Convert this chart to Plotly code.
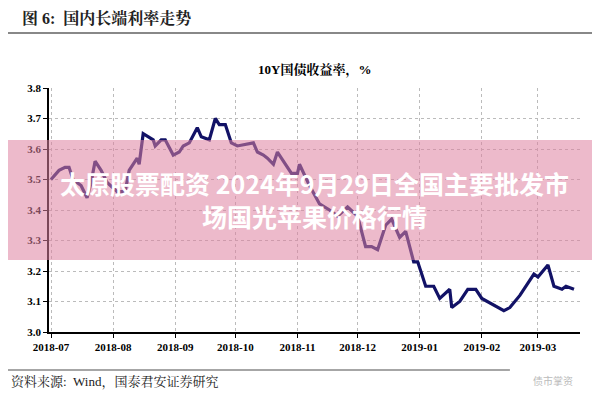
import plotly.graph_objects as go

dates = [
    "2018-07-01", "2018-07-05", "2018-07-08", "2018-07-10", "2018-07-12", "2018-07-16",
    "2018-07-19", "2018-07-21", "2018-07-23", "2018-07-26", "2018-07-29", "2018-08-01",
    "2018-08-03", "2018-08-07", "2018-08-09", "2018-08-13", "2018-08-14", "2018-08-16",
    "2018-08-21", "2018-08-22", "2018-08-25", "2018-08-27", "2018-08-31", "2018-09-03",
    "2018-09-05", "2018-09-08", "2018-09-12", "2018-09-14", "2018-09-18", "2018-09-21",
    "2018-09-23", "2018-09-26", "2018-09-29", "2018-10-02", "2018-10-10", "2018-10-12",
    "2018-10-15", "2018-10-17", "2018-10-20", "2018-10-22", "2018-10-27", "2018-10-29",
    "2018-11-01", "2018-11-02", "2018-11-07", "2018-11-12", "2018-11-17", "2018-11-21",
    "2018-11-26", "2018-12-01", "2018-12-05", "2018-12-08", "2018-12-11", "2018-12-15",
    "2018-12-18", "2018-12-22", "2018-12-25", "2018-12-29", "2018-12-31", "2019-01-04",
    "2019-01-08", "2019-01-11", "2019-01-16", "2019-01-17", "2019-01-21", "2019-01-25",
    "2019-01-29", "2019-02-01", "2019-02-12", "2019-02-15", "2019-02-20", "2019-02-24",
    "2019-02-27", "2019-03-01", "2019-03-06", "2019-03-09", "2019-03-13", "2019-03-15",
    "2019-03-19",
]
yields = [
    3.50, 3.53, 3.54, 3.54, 3.50, 3.48, 3.44, 3.49, 3.56, 3.53, 3.49, 3.47,
    3.46, 3.46, 3.53, 3.57, 3.55, 3.65, 3.63, 3.61, 3.63, 3.63, 3.58, 3.59,
    3.61, 3.62, 3.67, 3.64, 3.63, 3.70, 3.68, 3.68, 3.62, 3.61, 3.62, 3.59,
    3.58, 3.57, 3.55, 3.59, 3.54, 3.52, 3.52, 3.55, 3.48, 3.42, 3.40, 3.38,
    3.41, 3.38, 3.28, 3.28, 3.27, 3.35, 3.37, 3.31, 3.33, 3.23, 3.23, 3.15,
    3.15, 3.11, 3.14, 3.08, 3.10, 3.14, 3.14, 3.11, 3.07, 3.08, 3.12, 3.16,
    3.19, 3.18, 3.22, 3.15, 3.14, 3.15, 3.14,
]
month_ticks = ["2018-07-01", "2018-08-01", "2018-09-01", "2018-10-01", "2018-11-01",
               "2018-12-01", "2019-01-01", "2019-02-01", "2019-03-01"]
month_labels = ["2018-07", "2018-08", "2018-09", "2018-10", "2018-11",
                "2018-12", "2019-01", "2019-02", "2019-03"]

SERIF = "Liberation Serif, Noto Serif CJK SC, Noto Sans CJK SC"

fig = go.Figure()
fig.add_trace(go.Scatter(x=dates, y=yields, mode="lines",
                         line=dict(color="#121266", width=3.2)))

fig.update_layout(
    width=600, height=400,
    margin=dict(l=41, r=28, t=80, b=76),
    paper_bgcolor="white", plot_bgcolor="white",
    showlegend=False,
    xaxis=dict(range=["2018-06-30", "2019-03-22"], tickvals=month_ticks, ticktext=month_labels,
               showgrid=True, gridcolor="#bbbbbb", griddash="dot", gridwidth=1,
               showline=True, linecolor="black", linewidth=1.5,
               ticks="outside", ticklen=4, tickcolor="black",
               tickfont=dict(family=SERIF, size=11, color="black", weight="bold")),
    yaxis=dict(range=[3.0, 3.8], dtick=0.1, tickformat=".1f",
               showgrid=True, gridcolor="#bbbbbb", griddash="dot", gridwidth=1,
               showline=True, linecolor="black", linewidth=1.5,
               ticks="outside", ticklen=4, tickcolor="black", zeroline=False,
               tickfont=dict(family=SERIF, size=11, color="black", weight="bold")),
)

fig.add_annotation(text="10Y国债收益率，%", x=0.5, y=1.074, xref="paper", yref="paper",
                   yanchor="middle", showarrow=False,
                   font=dict(family=SERIF, size=13, color="black", weight="bold"))
fig.add_annotation(text="<b>图 6:  国内长端利率走势</b>", x=-0.055, xref="paper", xanchor="left",
                   y=1.287, yref="paper", yanchor="middle", showarrow=False,
                   font=dict(family=SERIF, size=16, color="#222"))

fig.add_shape(type="line", xref="paper", yref="paper", x0=-0.092, x1=1.04, y0=1.225, y1=1.225,
              line=dict(color="#888", width=2))
fig.add_shape(type="line", xref="paper", yref="paper", x0=-0.092, x1=0.868, y0=-0.156, y1=-0.156,
              line=dict(color="#888", width=1.5))
fig.add_annotation(text="资料来源:  Wind，国泰君安证券研究", x=-0.075, xanchor="left",
                   xref="paper", y=-0.205, yref="paper", yanchor="middle", showarrow=False,
                   font=dict(family=SERIF, size=13, color="#222"))
fig.add_annotation(text="债市掌资", x=0.99, xanchor="right", xref="paper", y=-0.2,
                   yref="paper", yanchor="middle", showarrow=False,
                   font=dict(family="Noto Sans CJK SC", size=10, color="#bbbbbb"))

# pink overlay banner
fig.add_shape(type="rect", xref="paper", yref="paper", x0=-0.1, x1=1.06, y0=0.295, y1=0.787,
              fillcolor="rgba(222,130,160,0.55)", line=dict(width=0), layer="above")
fig.add_annotation(text="太原股票配资 2024年9月29日全国主要批发市<br>场国光苹果价格行情",
                   x=0.5, y=0.541, xref="paper", yref="paper", showarrow=False,
                   font=dict(family="Noto Sans CJK SC", size=25, color="white", weight="bold"),
                   align="center")

fig.write_html("out.html")
